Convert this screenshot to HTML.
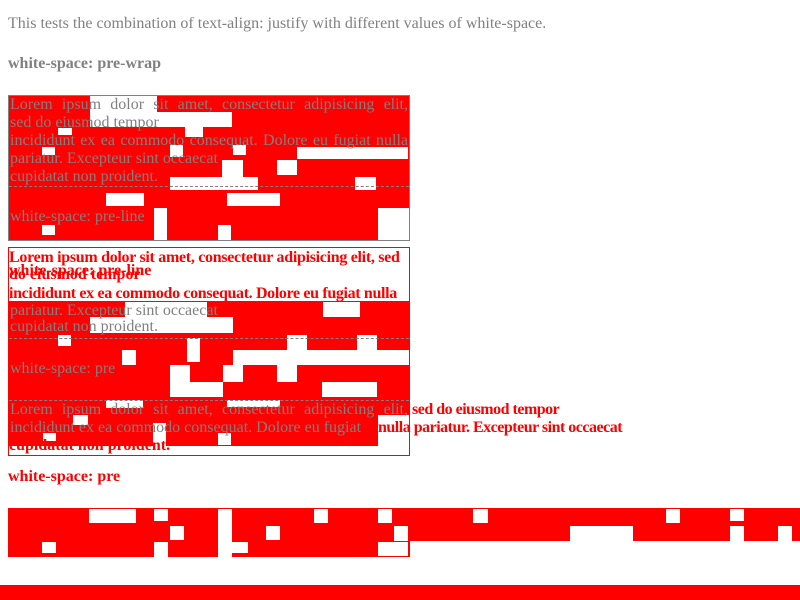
<!DOCTYPE html>
<html><head><meta charset="utf-8"><style>
html,body{margin:0;padding:0;width:800px;height:600px;overflow:hidden;background:#fff;font-family:"Liberation Serif",serif;font-size:16px}
.a{position:absolute}
.r{position:absolute;background:#f00}
.w{position:absolute;background:#fff}
.g{position:absolute;color:#808080;white-space:nowrap;line-height:18px}
.rt{position:absolute;color:#f00;font-weight:bold;white-space:nowrap;line-height:18px}
.j{white-space:normal;text-align:justify;text-align-last:justify;width:398px}
</style></head><body>
<div class="g" style="left:8px;top:15px">This tests the combination of text-align: justify with different values of white-space.</div>
<div class="g" style="left:8px;top:55px;font-weight:bold">white-space: pre-wrap</div>

<div class="a" style="left:8px;top:95px;width:400px;height:144px;border:1px solid #808080;background:#f00"></div>
<div class="w" style="left:90px;top:96px;width:67px;height:17px"></div>
<div class="w" style="left:90px;top:112px;width:142px;height:15px"></div>
<div class="w" style="left:185px;top:127px;width:18px;height:10px"></div>
<div class="w" style="left:58px;top:128px;width:14px;height:7px"></div>
<div class="w" style="left:42px;top:147px;width:13px;height:8px"></div>
<div class="w" style="left:170px;top:145px;width:13px;height:12px"></div>
<div class="w" style="left:233px;top:145px;width:13px;height:10px"></div>
<div class="w" style="left:297px;top:147px;width:111px;height:12px"></div>
<div class="w" style="left:222px;top:160px;width:21px;height:17px"></div>
<div class="w" style="left:277px;top:160px;width:20px;height:15px"></div>
<div class="w" style="left:170px;top:177px;width:88px;height:13px"></div>
<div class="w" style="left:355px;top:177px;width:21px;height:13px"></div>
<div class="w" style="left:106px;top:193px;width:38px;height:13px"></div>
<div class="w" style="left:227px;top:193px;width:53px;height:13px"></div>
<div class="w" style="left:42px;top:225px;width:13px;height:10px"></div>
<div class="w" style="left:154px;top:208px;width:13px;height:32px"></div>
<div class="w" style="left:218px;top:225px;width:13px;height:15px"></div>
<div class="w" style="left:378px;top:208px;width:31px;height:32px"></div>
<div class="a" style="left:9px;top:186px;width:400px;border-top:1px dashed #808080"></div>
<div class="g j" style="left:10px;top:96px">Lorem ipsum dolor sit amet, consectetur adipisicing elit,</div>
<div class="g" style="left:10px;top:114px">sed do eiusmod tempor</div>
<div class="g j" style="left:10px;top:132px">incididunt ex ea commodo consequat. Dolore eu fugiat nulla</div>
<div class="g" style="left:10px;top:150px">pariatur. Excepteur sint occaecat</div>
<div class="g" style="left:10px;top:168px">cupidatat non proident.</div>
<div class="g" style="left:10px;top:208px">white-space: pre-line</div>

<div class="a" style="left:8px;top:247px;width:400px;height:207px;border:1px solid #f00;background:#fff"></div>
<div class="rt" style="left:9px;top:249px;letter-spacing:-0.3px">Lorem ipsum dolor sit amet, consectetur adipisicing elit, sed</div>
<div class="rt" style="left:9px;top:266px">do eiusmod tempor</div>
<div class="rt" style="left:9px;top:262px">white-space: pre-line</div>
<div class="rt" style="left:9px;top:285px;letter-spacing:-0.35px">incididunt ex ea commodo consequat. Dolore eu fugiat nulla</div>
<div class="r" style="left:9px;top:301px;width:400px;height:145px"></div>
<div class="w" style="left:125px;top:302px;width:82px;height:15px"></div>
<div class="w" style="left:90px;top:317px;width:143px;height:16px"></div>
<div class="w" style="left:323px;top:302px;width:37px;height:15px"></div>
<div class="w" style="left:58px;top:335px;width:13px;height:11px"></div>
<div class="w" style="left:187px;top:338px;width:13px;height:24px"></div>
<div class="w" style="left:287px;top:335px;width:20px;height:15px"></div>
<div class="w" style="left:357px;top:335px;width:20px;height:15px"></div>
<div class="w" style="left:122px;top:350px;width:14px;height:15px"></div>
<div class="w" style="left:233px;top:350px;width:176px;height:15px"></div>
<div class="w" style="left:223px;top:365px;width:20px;height:17px"></div>
<div class="w" style="left:277px;top:365px;width:20px;height:17px"></div>
<div class="w" style="left:170px;top:365px;width:20px;height:32px"></div>
<div class="w" style="left:190px;top:382px;width:33px;height:15px"></div>
<div class="w" style="left:322px;top:382px;width:55px;height:15px"></div>
<div class="w" style="left:106px;top:400px;width:37px;height:8px"></div>
<div class="w" style="left:227px;top:400px;width:53px;height:7px"></div>
<div class="w" style="left:73px;top:415px;width:15px;height:10px"></div>
<div class="w" style="left:43px;top:433px;width:13px;height:8px"></div>
<div class="w" style="left:153px;top:423px;width:13px;height:23px"></div>
<div class="w" style="left:218px;top:433px;width:13px;height:12px"></div>
<div class="w" style="left:378px;top:415px;width:31px;height:31px"></div>
<div class="a" style="left:9px;top:338px;width:400px;border-top:1px dashed #808080"></div>
<div class="a" style="left:9px;top:400px;width:400px;border-top:1px dashed #808080"></div>
<div class="g" style="left:10px;top:302px">pariatur. Excepteur sint occaecat</div>
<div class="g" style="left:10px;top:318px">cupidatat non proident.</div>
<div class="g" style="left:10px;top:360px">white-space: pre</div>
<div class="g j" style="left:10px;top:401px">Lorem ipsum dolor sit amet, consectetur adipisicing elit,</div>
<div class="rt" style="left:412px;top:401px;letter-spacing:-0.5px">sed do eiusmod tempor</div>
<div class="g" style="left:10px;top:419px">incididunt ex ea commodo consequat. Dolore eu fugiat</div>
<div class="rt" style="left:378px;top:419px;letter-spacing:-0.5px">nulla pariatur. Excepteur sint occaecat</div>
<div class="rt" style="left:9px;top:437px">cupidatat non proident.</div>

<div class="rt" style="left:8px;top:468px">white-space: pre</div>

<div class="r" style="left:8px;top:508px;width:402px;height:49px"></div>
<div class="r" style="left:410px;top:508px;width:390px;height:33px"></div>
<div class="w" style="left:89px;top:509px;width:47px;height:14px"></div>
<div class="w" style="left:154px;top:509px;width:14px;height:12px"></div>
<div class="w" style="left:170px;top:526px;width:14px;height:14px"></div>
<div class="w" style="left:42px;top:542px;width:14px;height:11px"></div>
<div class="w" style="left:154px;top:542px;width:14px;height:15px"></div>
<div class="w" style="left:218px;top:509px;width:14px;height:48px"></div>
<div class="w" style="left:232px;top:542px;width:16px;height:11px"></div>
<div class="w" style="left:266px;top:526px;width:14px;height:14px"></div>
<div class="w" style="left:314px;top:509px;width:14px;height:14px"></div>
<div class="w" style="left:378px;top:509px;width:14px;height:14px"></div>
<div class="w" style="left:378px;top:542px;width:30px;height:14px"></div>
<div class="w" style="left:394px;top:526px;width:14px;height:15px"></div>
<div class="w" style="left:473px;top:509px;width:15px;height:14px"></div>
<div class="w" style="left:570px;top:526px;width:63px;height:15px"></div>
<div class="w" style="left:666px;top:509px;width:14px;height:14px"></div>
<div class="w" style="left:730px;top:509px;width:14px;height:12px"></div>
<div class="w" style="left:730px;top:526px;width:14px;height:15px"></div>
<div class="w" style="left:778px;top:526px;width:14px;height:15px"></div>

<div class="r" style="left:0;top:585px;width:800px;height:15px"></div>
</body></html>
